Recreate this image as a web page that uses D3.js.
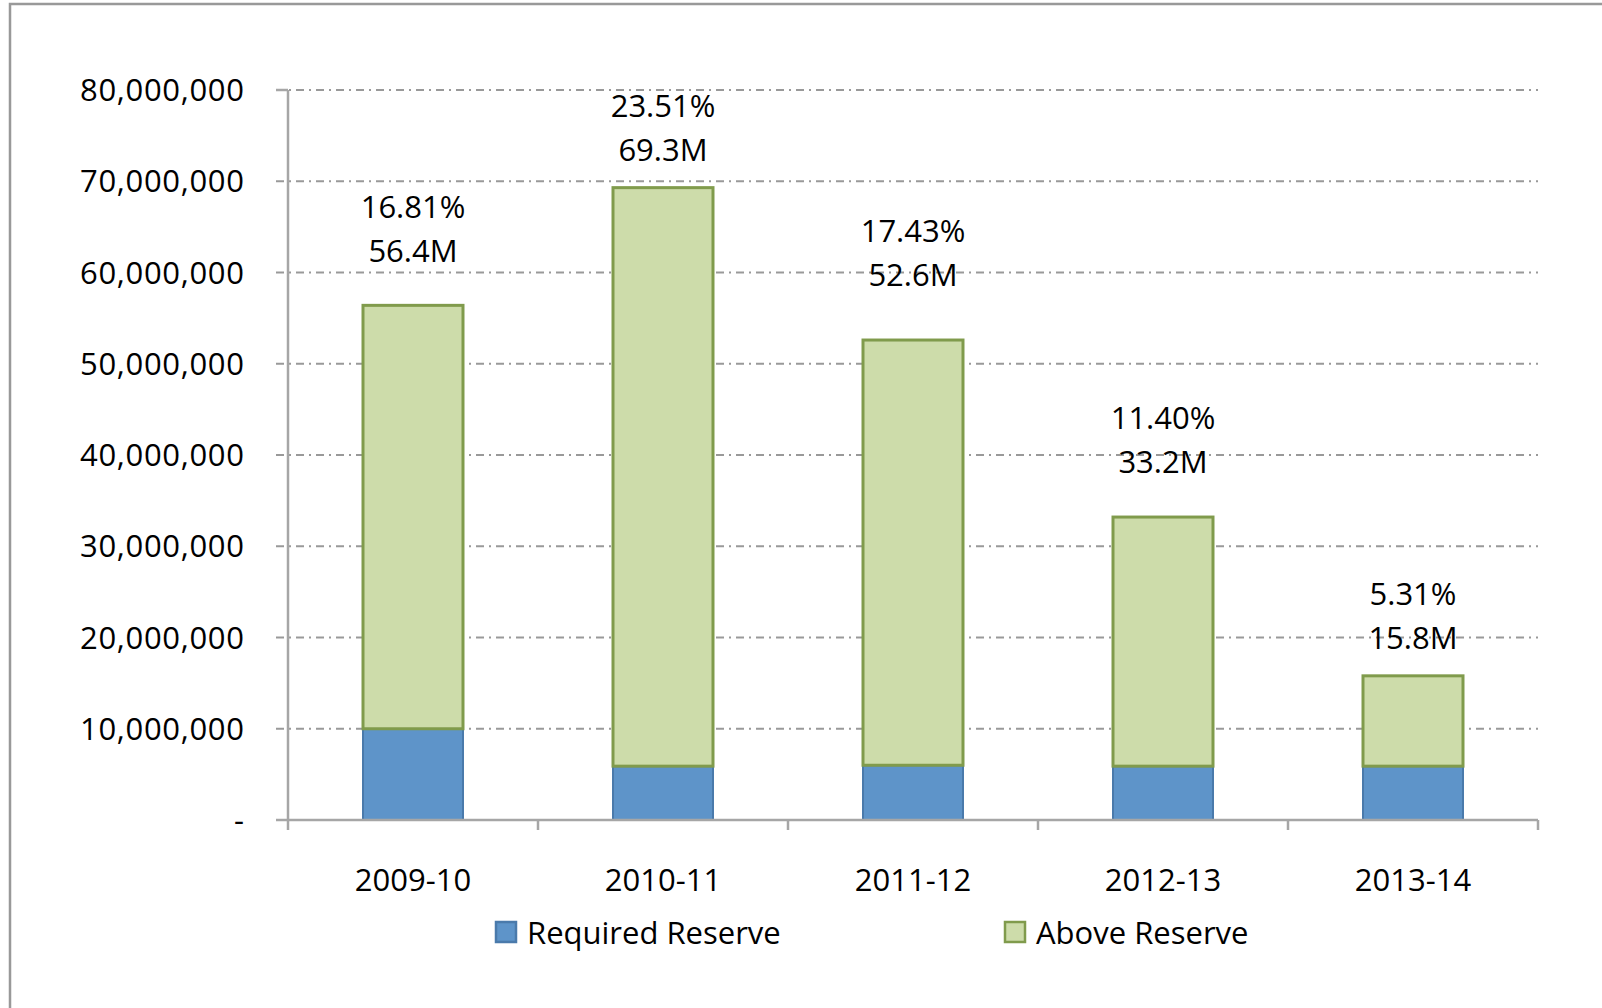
<!DOCTYPE html>
<html>
<head>
<meta charset="utf-8">
<script src="https://cdn.jsdelivr.net/npm/d3@7"></script>
<style>
  html, body { margin: 0; background: #fff; overflow: hidden; }
  svg { display: block; }
  text { font-family: "Open Sans", sans-serif; fill: #000; }
</style>
</head>
<body>
<div id="chart"></div>
<script>
var years = ['2009-10', '2010-11', '2011-12', '2012-13', '2013-14']
var required = [10.0, 5.9, 6.0, 5.9, 5.9]        // millions
var total = [56.4, 69.3, 52.6, 33.2, 15.8]       // millions
var pctLabels = ['16.81%', '23.51%', '17.43%', '11.40%', '5.31%']
var totalLabels = ['56.4M', '69.3M', '52.6M', '33.2M', '15.8M']
var yTicks = [0, 10, 20, 30, 40, 50, 60, 70, 80]

var W = 1602, H = 1008
var plotLeft = 288, plotRight = 1538, plotTop = 90, plotBottom = 820

var svg = d3.select('#chart').append('svg')
  .attr('width', W)
  .attr('height', H)

// outer frame (only top and left edges are in view)
svg.append('path')
  .attr('d', 'M10,' + H + 'V4H' + W)
  .attr('fill', 'none')
  .attr('stroke', '#999')
  .attr('stroke-width', 2.5)

var x = d3.scaleBand().domain(years).range([plotLeft, plotRight]).paddingInner(0.6).paddingOuter(0.3)
var y = d3.scaleLinear().domain([0, 80]).range([plotBottom, plotTop])

// gridlines
svg.selectAll('.grid').data(yTicks.filter(function(t){ return t > 0 }))
  .enter().append('line')
  .attr('x1', plotLeft - 12).attr('x2', plotRight)
  .attr('y1', function(t){ return y(t) }).attr('y2', function(t){ return y(t) })
  .attr('stroke', '#999')
  .attr('stroke-width', 2)
  .attr('stroke-dasharray', '8,5,2,5')

// y axis
svg.append('line')
  .attr('x1', plotLeft).attr('x2', plotLeft).attr('y1', plotTop).attr('y2', plotBottom)
  .attr('stroke', '#a6a6a6').attr('stroke-width', 2.5)
svg.append('line')
  .attr('x1', plotLeft - 12).attr('x2', plotLeft).attr('y1', plotTop).attr('y2', plotTop)
  .attr('stroke', '#a6a6a6').attr('stroke-width', 2.5)

svg.selectAll('.ylab').data(yTicks)
  .enter().append('text')
  .attr('x', 244)
  .attr('y', function(t){ return y(t) })
  .attr('dy', '0.36em')
  .attr('text-anchor', 'end')
  .attr('font-size', 31)
  .attr('textLength', function(t){ return t === 0 ? null : 164 })
  .text(function(t){ return t === 0 ? '-' : d3.format(',')(t * 1000000) })

// bars: required reserve
svg.selectAll('.req').data(years)
  .enter().append('rect')
  .attr('x', function(d){ return x(d) })
  .attr('width', x.bandwidth())
  .attr('y', function(d, i){ return y(required[i]) })
  .attr('height', function(d, i){ return y(0) - y(required[i]) })
  .attr('fill', '#5e94c9')
  .attr('stroke', '#4a7aab')
  .attr('stroke-width', 2)

// bars: above reserve
svg.selectAll('.above').data(years)
  .enter().append('rect')
  .attr('x', function(d){ return x(d) })
  .attr('width', x.bandwidth())
  .attr('y', function(d, i){ return y(total[i]) })
  .attr('height', function(d, i){ return y(required[i]) - y(total[i]) })
  .attr('fill', '#cddcaa')
  .attr('stroke', '#809b4c')
  .attr('stroke-width', 3)

// x axis
svg.append('line')
  .attr('x1', plotLeft - 12).attr('x2', plotRight).attr('y1', plotBottom).attr('y2', plotBottom)
  .attr('stroke', '#a6a6a6').attr('stroke-width', 2.5)
var step = (plotRight - plotLeft) / years.length
svg.selectAll('.xtick').data(d3.range(years.length + 1))
  .enter().append('line')
  .attr('x1', function(i){ return plotLeft + i * step })
  .attr('x2', function(i){ return plotLeft + i * step })
  .attr('y1', plotBottom).attr('y2', plotBottom + 10)
  .attr('stroke', '#a6a6a6').attr('stroke-width', 2.5)

svg.selectAll('.xlab').data(years)
  .enter().append('text')
  .attr('x', function(d){ return x(d) + x.bandwidth() / 2 })
  .attr('y', 880)
  .attr('dy', '0.36em')
  .attr('text-anchor', 'middle')
  .attr('font-size', 31)
  .text(function(d){ return d })

// value labels (placed by hand in the original, so a per-bar lift)
var lift = [55, 38, 65, 55, 38]
years.forEach(function(d, i){
  var cx = x(d) + x.bandwidth() / 2
  var by = y(total[i]) - lift[i]
  svg.append('text')
    .attr('x', cx).attr('y', by - 44)
    .attr('dy', '0.36em')
    .attr('text-anchor', 'middle')
    .attr('font-size', 31)
    .text(pctLabels[i])
  svg.append('text')
    .attr('x', cx).attr('y', by)
    .attr('dy', '0.36em')
    .attr('text-anchor', 'middle')
    .attr('font-size', 31)
    .text(totalLabels[i])
})

// legend
var legend = [
  {name: 'Required Reserve', fill: '#5e94c9', stroke: '#4a7aab', x: 496},
  {name: 'Above Reserve', fill: '#cddcaa', stroke: '#809b4c', x: 1005}
]
var lg = svg.selectAll('.legend').data(legend)
  .enter().append('g')
  .attr('transform', function(d){ return 'translate(' + d.x + ',933)' })
lg.append('rect')
  .attr('x', 0).attr('y', -11)
  .attr('width', 20).attr('height', 20)
  .attr('fill', function(d){ return d.fill })
  .attr('stroke', function(d){ return d.stroke })
  .attr('stroke-width', 2.5)
lg.append('text')
  .attr('x', 31).attr('y', 0)
  .attr('dy', '0.36em')
  .attr('font-size', 31)
  .text(function(d){ return d.name })
</script>
</body>
</html>
